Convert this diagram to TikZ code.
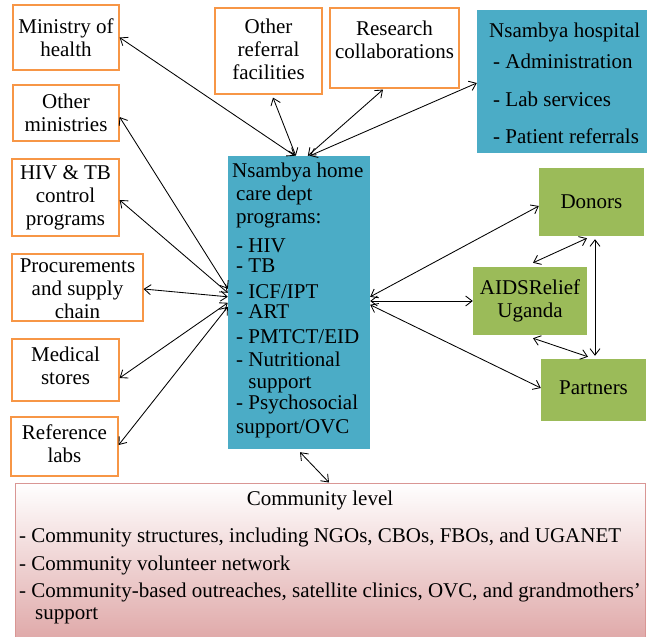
\documentclass[tikz,border=0pt]{standalone}
\usepackage{fontspec}
\setmainfont{Liberation Serif}
\usetikzlibrary{arrows.meta,calc}
\definecolor{orbord}{RGB}{247,150,70}
\definecolor{hteal}{RGB}{75,172,198}
\definecolor{leafg}{RGB}{155,187,89}
\definecolor{combord}{RGB}{217,150,148}
\definecolor{compink}{RGB}{224,170,170}
\newcommand{\fsz}{\fontsize{21}{23}\selectfont}
\begin{document}
\begin{tikzpicture}[x=1pt,y=-1pt,
  obox/.style={draw=orbord,line width=1.2pt,fill=white,inner sep=0pt},
  tbox/.style={fill=hteal,inner sep=0pt},
  gbox/.style={fill=leafg,inner sep=0pt},
  txt/.style={font=\fsz,inner sep=0pt,align=center,text=black},
  ltxt/.style={font=\fsz,inner sep=0pt,align=left,text=black},
  link/.style={{Straight Barb[length=6.5pt,width=10pt]}-{Straight Barb[length=6.5pt,width=10pt]},line width=0.85pt}]
\useasboundingbox (0,0) rectangle (649,637);
% community box
\node[draw=combord,line width=1pt,top color=white,middle color=compink!35,bottom color=compink,
      minimum width=630pt,minimum height=154pt,inner sep=0pt] (com) at (330,560) {};
% left boxes
\node[obox,minimum width=106pt,minimum height=65pt] (moh) at (66,37.5) {};
\node[obox,minimum width=106pt,minimum height=56pt] (othmin) at (66,113) {};
\node[obox,minimum width=107pt,minimum height=77pt] (hivtb) at (65.5,197.5) {};
\node[obox,minimum width=131pt,minimum height=67pt] (proc) at (77.5,287.5) {};
\node[obox,minimum width=107pt,minimum height=62pt] (med) at (65.5,370) {};
\node[obox,minimum width=107pt,minimum height=59pt] (ref) at (64.5,446.5) {};
% top boxes
\node[obox,minimum width=107pt,minimum height=86pt] (oref) at (268.5,51) {};
\node[obox,minimum width=129pt,minimum height=80pt] (res) at (394.5,48) {};
\node[tbox,minimum width=170pt,minimum height=143pt] (hosp) at (562,81.5) {};
% center
\node[tbox,minimum width=142pt,minimum height=293pt] (ctr) at (299,302.5) {};
% right boxes
\node[gbox,minimum width=105pt,minimum height=68pt] (donors) at (591.5,202) {};
\node[gbox,minimum width=114pt,minimum height=68pt] (aids) at (530,301) {};
\node[gbox,minimum width=105pt,minimum height=62pt] (partners) at (593.5,390) {};
% texts
\node[txt] (mohT) at (66,38) {Ministry of\\health};
\node[txt] (othminT) at (66,112.5) {Other\\ministries};
\node[txt] (hivtbT) at (65.5,198) {HIV \& TB\\control\\programs};
\node[txt] (procT) at (77.5,289) {Procurements\\and supply\\chain};
\node[txt] (medT) at (65.5,366) {Medical\\stores};
\node[txt] (refT) at (64.5,444) {Reference\\labs};
\node[txt] (orefT) at (268.5,49.5) {Other\\referral\\facilities};
\node[txt] (resT) at (394.5,40) {Research\\collaborations};
\node[txt] (donorsT) at (591.5,202) {Donors};
\node[txt] (aidsT) at (530,301) {AIDSRelief\\Uganda};
\node[txt] (partnersT) at (593.5,388) {Partners};
\node[ltxt,anchor=north west] (hospT) at (489,22.7) {Nsambya hospital\\[8pt]\hspace*{4pt}- Administration\\[15pt]\hspace*{4pt}- Lab services\\[14pt]\hspace*{4pt}- Patient referrals};
\node[ltxt,anchor=north west] (ctrT) at (236,162.4) {\hspace*{-4pt}Nsambya home\\[0.3pt]
care dept\\
programs:\\[5.7pt]
- HIV\\[-2.7pt]
- TB\\[2.7pt]
- ICF/IPT\\[-2.7pt]
- ART\\[2pt]
- PMTCT/EID\\[-0.3pt]
- Nutritional\\[-0.7pt]
\phantom{- }support\\[-2pt]
- Psychosocial\\[1pt]
support/OVC};
\node[txt,anchor=base] (comT) at (320,505) {Community level};
\node[ltxt,anchor=base west] (com1) at (19,542) {- Community structures, including NGOs, CBOs, FBOs, and UGANET};
\node[ltxt,anchor=base west] (com2) at (19,570) {- Community volunteer network};
\node[ltxt,anchor=base west] (com3) at (19,597) {- Community-based outreaches, satellite clinics, OVC, and grandmothers’};
\node[ltxt,anchor=base west] (com4) at (35,619) {support};
% connectors
\draw[link] (moh.east) -- ($(ctr.north west)+(67,0)$);
\draw[link] ($(othmin.east)+(0,4)$) -- ($(ctr.north west)+(0,133)$);
\draw[link] ($(hivtb.east)+(0,2.5)$) -- ($(ctr.north west)+(0,137)$);
\draw[link] ($(proc.east)+(0,1.5)$) -- ($(ctr.north west)+(0,141)$);
\draw[link] ($(med.east)+(0,8)$) -- ($(ctr.north west)+(0,147)$);
\draw[link] ($(ref.east)+(0,-1.5)$) -- ($(ctr.north west)+(0,151)$);
\draw[link] ($(oref.south)+(4.5,3)$) -- ($(ctr.north west)+(68,0)$);
\draw[link] ($(res.south)+(-11.5,1)$) -- ($(ctr.north west)+(80,0)$);
\draw[link] ($(hosp.west)+(0,1.5)$) -- ($(ctr.north west)+(82,0)$);
\draw[link] ($(donors.west)+(0,4)$) -- ($(ctr.north east)+(0,141)$);
\draw[link] (aids.west) -- (aids.west -| ctr.east);
\draw[link] ($(partners.west)+(0,-2)$) -- ($(ctr.north east)+(0,149)$);
\draw[link] ($(donors.south)+(-4.5,2)$) -- ($(aids.north)+(3,-4)$);
\draw[link] ($(donors.south)+(3.5,3)$) -- ($(partners.north)+(1.5,-3)$);
\draw[link] ($(aids.south)+(3,3)$) -- ($(partners.north)+(-5.5,-2)$);
\draw[link] ($(ctr.south)+(1,3)$) -- ($(com.north)+(-1,0)$);
\end{tikzpicture}
\end{document}
